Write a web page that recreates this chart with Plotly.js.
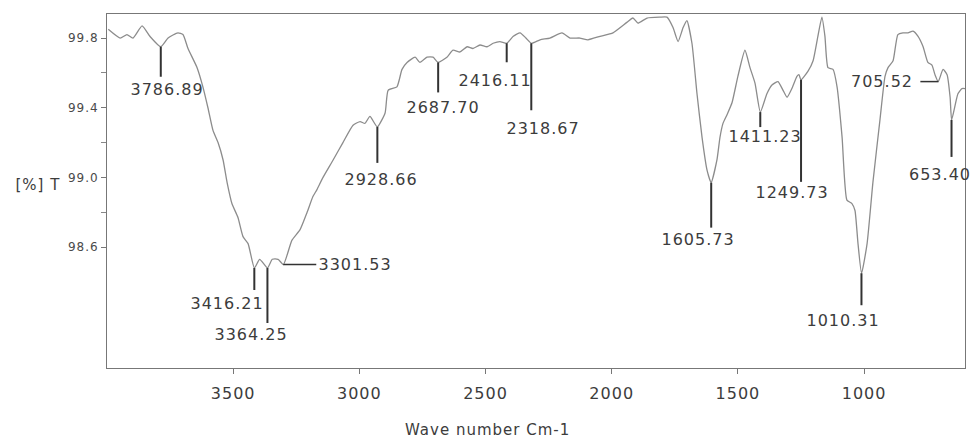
<!DOCTYPE html>
<html>
<head>
<meta charset="utf-8">
<script src="https://cdn.plot.ly/plotly-3.0.1.min.js"></script>
<style>
  html, body { margin: 0; padding: 0; background: #fff; }
  #chart { width: 976px; height: 441px; }
  #chart svg text { letter-spacing: 1px; }
</style>
</head>
<body>
<div id="chart"></div>
<script>
// ---- Data ----
const wavenumber = [3995, 3948, 3921, 3897, 3861, 3830, 3787, 3758, 3719, 3699, 3679, 3643, 3620, 3600, 3580, 3560, 3540, 3524, 3505, 3481, 3461, 3441, 3416, 3395, 3364, 3345, 3322, 3301, 3267, 3235, 3207, 3184, 3168, 3144, 3104, 3065, 3025, 2997, 2978, 2958, 2929, 2898, 2886, 2851, 2831, 2811, 2779, 2760, 2732, 2708, 2688, 2653, 2629, 2601, 2573, 2550, 2522, 2494, 2470, 2443, 2416, 2390, 2363, 2340, 2318, 2284, 2245, 2197, 2165, 2126, 2094, 2046, 1995, 1940, 1916, 1896, 1860, 1809, 1781, 1757, 1737, 1717, 1702, 1682, 1662, 1642, 1622, 1606, 1583, 1571, 1559, 1543, 1523, 1500, 1472, 1452, 1432, 1411, 1385, 1365, 1341, 1321, 1305, 1286, 1266, 1258, 1250, 1222, 1202, 1183, 1167, 1155, 1143, 1123, 1107, 1087, 1068, 1048, 1036, 1024, 1010, 988, 965, 937, 917, 905, 885, 866, 846, 826, 806, 786, 766, 747, 731, 719, 706, 687, 671, 659, 653, 628, 612, 600];
const transmittance = [99.85, 99.80, 99.82, 99.80, 99.87, 99.81, 99.75, 99.80, 99.83, 99.82, 99.74, 99.63, 99.52, 99.40, 99.27, 99.20, 99.10, 98.97, 98.85, 98.77, 98.66, 98.62, 98.48, 98.53, 98.48, 98.53, 98.53, 98.50, 98.64, 98.70, 98.80, 98.89, 98.93, 99.00, 99.10, 99.20, 99.30, 99.32, 99.31, 99.35, 99.29, 99.37, 99.50, 99.52, 99.62, 99.66, 99.69, 99.66, 99.69, 99.69, 99.66, 99.69, 99.73, 99.72, 99.75, 99.74, 99.76, 99.75, 99.77, 99.78, 99.77, 99.81, 99.83, 99.80, 99.77, 99.79, 99.80, 99.83, 99.80, 99.80, 99.79, 99.81, 99.83, 99.89, 99.915, 99.886, 99.915, 99.92, 99.92, 99.86, 99.78, 99.86, 99.90, 99.77, 99.48, 99.23, 99.04, 98.97, 99.10, 99.23, 99.31, 99.36, 99.43, 99.58, 99.73, 99.63, 99.54, 99.375, 99.48, 99.53, 99.55, 99.50, 99.46, 99.51, 99.58, 99.59, 99.56, 99.61, 99.67, 99.81, 99.92, 99.81, 99.63, 99.62, 99.52, 99.23, 98.87, 98.85, 98.81, 98.62, 98.45, 98.62, 98.97, 99.33, 99.58, 99.63, 99.67, 99.82, 99.83, 99.83, 99.84, 99.81, 99.75, 99.66, 99.645, 99.59, 99.55, 99.62, 99.59, 99.46, 99.33, 99.48, 99.51, 99.51];

const peakWavenumber = [3786.89, 3416.21, 3364.25, 3301.53, 2928.66, 2687.70, 2416.11, 2318.67, 1605.73, 1411.23, 1249.73, 1010.31, 705.52, 653.40];
const peakTransmittance = [99.75, 98.48, 98.48, 98.50, 99.29, 99.66, 99.77, 99.77, 98.97, 99.375, 99.56, 98.45, 99.55, 99.33];
const peakLabel = ["3786.89", "3416.21", "3364.25", "3301.53", "2928.66", "2687.70", "2416.11", "2318.67", "1605.73", "1411.23", "1249.73", "1010.31", "705.52", "653.40"];

const xTickValues = [3500, 3000, 2500, 2000, 1500, 1000];
const xTickLabels = ["3500", "3000", "2500", "2000", "1500", "1000"];
const yTickValues = [98.6, 99.0, 99.4, 99.8];
const yTickLabels = ["98.6", "99.0", "99.4", "99.8"];
const yMinorTickValues = [98.8, 99.2, 99.6];

// ---- Label placement (pixels): marker direction/length, text offset ----
const labelStyle = [
  {dir: 'v', len: 30, dx: 6,   dy: 43, anchor: 'center'},
  {dir: 'v', len: 22, dx: -27, dy: 35, anchor: 'center'},
  {dir: 'v', len: 55, dx: -16, dy: 66, anchor: 'center'},
  {dir: 'h', len: 33, dx: 37,  dy: 0,  anchor: 'left'},
  {dir: 'v', len: 36, dx: 4,   dy: 53, anchor: 'center'},
  {dir: 'v', len: 30, dx: 5,   dy: 45, anchor: 'center'},
  {dir: 'v', len: 19, dx: -12, dy: 37, anchor: 'center'},
  {dir: 'v', len: 67, dx: 12,  dy: 85, anchor: 'center'},
  {dir: 'v', len: 45, dx: -13, dy: 57, anchor: 'center'},
  {dir: 'v', len: 15, dx: 5,   dy: 24, anchor: 'center'},
  {dir: 'v', len: 102, dx: -9, dy: 113, anchor: 'center'},
  {dir: 'v', len: 32, dx: -18, dy: 47, anchor: 'center'},
  {dir: 'h', len: -18, dx: -26, dy: 0, anchor: 'right'},
  {dir: 'v', len: 37, dx: -12, dy: 55, anchor: 'center'}
];

const textColor = '#3c3c3c';
const fontFam = 'DejaVu Sans, Verdana, sans-serif';

const shapes = peakWavenumber.map((wn, i) => {
  const s = labelStyle[i];
  if (s.dir === 'v') {
    return {type: 'line', xref: 'x', yref: 'y', ysizemode: 'pixel', yanchor: peakTransmittance[i],
            x0: wn, x1: wn, y0: 0, y1: -s.len, line: {color: '#333', width: 2}};
  }
  return {type: 'line', xref: 'x', yref: 'y', xsizemode: 'pixel', xanchor: wn,
          x0: 0, x1: s.len, y0: peakTransmittance[i], y1: peakTransmittance[i], line: {color: '#333', width: 1.5}};
});

const annotations = peakWavenumber.map((wn, i) => {
  const s = labelStyle[i];
  return {x: wn, y: peakTransmittance[i], xref: 'x', yref: 'y', text: peakLabel[i], showarrow: false,
          xanchor: s.anchor, yanchor: 'middle', xshift: s.dx, yshift: -s.dy,
          font: {family: fontFam, size: 16, color: textColor}};
});
annotations.push({x: -0.08, y: 0.517, xref: 'paper', yref: 'paper', text: '[%] T', showarrow: false,
  xanchor: 'center', yanchor: 'middle', font: {family: fontFam, size: 15, color: textColor}});
annotations.push({x: 0.443, y: -0.174, xref: 'paper', yref: 'paper', text: 'Wave number Cm-1', showarrow: false,
  xanchor: 'center', yanchor: 'middle', font: {family: fontFam, size: 15, color: textColor}});

const trace = {
  x: wavenumber, y: transmittance, type: 'scatter', mode: 'lines',
  line: {color: '#8c8c8c', width: 1.3, shape: 'spline', smoothing: 0.5},
  hoverinfo: 'x+y'
};

const layout = {
  width: 976, height: 441,
  margin: {l: 107, r: 11, t: 14, b: 73},
  paper_bgcolor: '#fff', plot_bgcolor: '#fff',
  showlegend: false,
  xaxis: {
    range: [4000, 600], showgrid: false, zeroline: false,
    showline: true, mirror: true, linecolor: '#777', linewidth: 1,
    ticks: 'outside', ticklen: 5, tickcolor: '#777',
    tickvals: xTickValues, ticktext: xTickLabels,
    tickfont: {family: fontFam, size: 16, color: textColor},
    ticklabelstandoff: 6
  },
  yaxis: {
    range: [97.906, 99.938], showgrid: false, zeroline: false,
    showline: true, mirror: true, linecolor: '#777', linewidth: 1,
    ticks: 'outside', ticklen: 5, tickcolor: '#777',
    tickvals: yTickValues, ticktext: yTickLabels,
    tickfont: {family: fontFam, size: 12, color: '#4a4a4a'},
    minor: {tickvals: yMinorTickValues, ticks: 'outside', ticklen: 5, tickcolor: '#888', showgrid: false}
  },
  shapes: shapes,
  annotations: annotations
};

Plotly.newPlot('chart', [trace], layout, {staticPlot: true, displayModeBar: false});
</script>
</body>
</html>
